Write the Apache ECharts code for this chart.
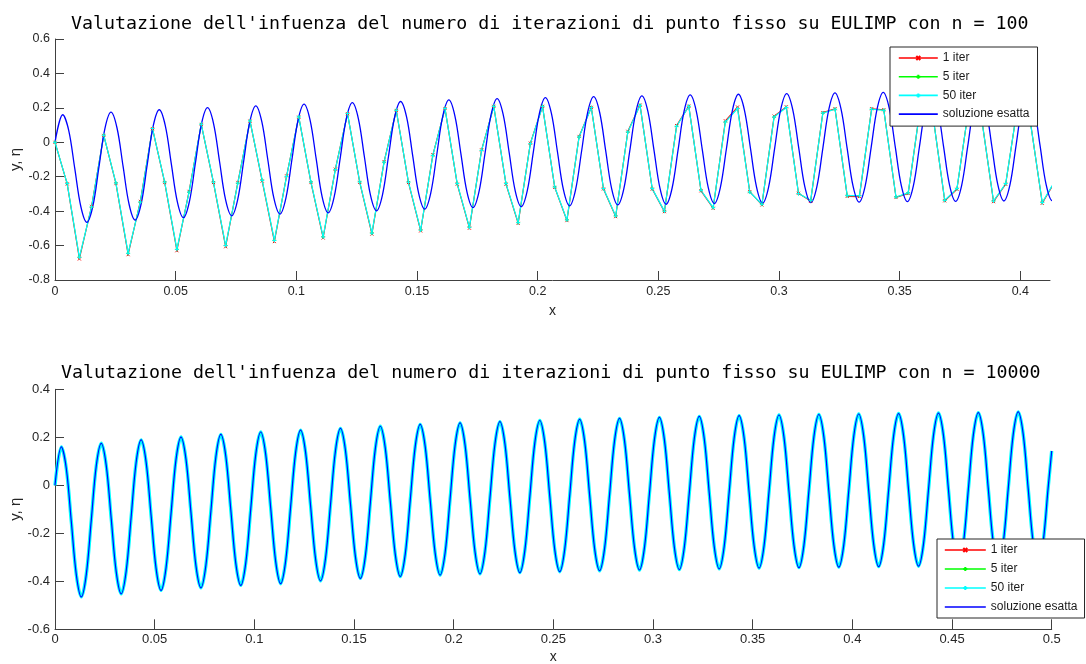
<!DOCTYPE html>
<html>
<head>
<meta charset="utf-8">
<script src="https://cdn.jsdelivr.net/npm/echarts@6/dist/echarts.min.js"></script>
<style>
html,body{margin:0;padding:0;background:#ffffff;}
#chart{width:1086px;height:664px;}
</style>
</head>
<body>
<div id="chart"></div>
<script>
// ---------------- DATA ----------------
const seriesNames = ['1 iter', '5 iter', '50 iter', 'soluzione esatta'];
const titleTop = "Valutazione dell'infuenza del numero di iterazioni di punto fisso su EULIMP con n = 100";
const titleBottom = "Valutazione dell'infuenza del numero di iterazioni di punto fisso su EULIMP con n = 10000";
const xTicksTop = [0, 0.05, 0.1, 0.15, 0.2, 0.25, 0.3, 0.35, 0.4];

// n = 100 grid on [0, 0.5]: step 0.5/99 (only first 83 nodes visible)
const stepTop = 0.5 / 99;

// 1 iter (red), n = 100
const iter1Top = [0, -0.242, -0.678, -0.372, 0.040, -0.240, -0.653, -0.343, 0.079, -0.234, -0.630, -0.285, 0.104,
  -0.234, -0.607, -0.233, 0.123, -0.225, -0.577, -0.195, 0.146, -0.234, -0.556, -0.156, 0.166,
  -0.233, -0.533, -0.112, 0.185, -0.234, -0.515, -0.073, 0.196, -0.243, -0.499, -0.044, 0.209,
  -0.243, -0.471, -0.005, 0.209, -0.262, -0.455, 0.034, 0.203, -0.271, -0.432, 0.064, 0.216,
  -0.272, -0.403, 0.097, 0.210, -0.282, -0.383, 0.125, 0.205, -0.287, -0.364, 0.152, 0.206,
  -0.296, -0.342, 0.173, 0.195, -0.314, -0.316, 0.195, 0.189, -0.321, -0.298, 0.207, 0.172,
  -0.340, -0.273, 0.217, 0.152, -0.345, -0.244, 0.224, 0.132, -0.354, -0.234];

// 50 iter (cyan), n = 100
const iter50Top = [0, -0.240, -0.668, -0.376, 0.041, -0.237, -0.645, -0.347, 0.080, -0.231, -0.622, -0.289, 0.105,
  -0.231, -0.600, -0.237, 0.124, -0.221, -0.570, -0.198, 0.147, -0.231, -0.550, -0.159, 0.167,
  -0.230, -0.528, -0.115, 0.186, -0.231, -0.510, -0.076, 0.196, -0.240, -0.494, -0.047, 0.209,
  -0.240, -0.467, -0.008, 0.209, -0.260, -0.451, 0.031, 0.202, -0.269, -0.428, 0.060, 0.215,
  -0.269, -0.400, 0.093, 0.209, -0.279, -0.380, 0.118, 0.196, -0.289, -0.360, 0.147, 0.202,
  -0.298, -0.337, 0.170, 0.192, -0.310, -0.310, 0.192, 0.186, -0.318, -0.294, 0.205, 0.170,
  -0.337, -0.269, 0.215, 0.150, -0.341, -0.240, 0.222, 0.130, -0.350, -0.230];

// 5 iter (green) is hidden under 50 iter: same values
const iter5Top = iter50Top.slice();

// exact solution, read at x = 0, 0.0032 + 0.0025*j (j = 0..198), 0.5
const exactY = [0,
  0.160, 0.068, -0.153, -0.373, -0.465, -0.371, -0.145, 0.081,
  0.175, 0.083, -0.139, -0.360, -0.452, -0.358, -0.132, 0.095,
  0.189, 0.097, -0.125, -0.346, -0.438, -0.344, -0.119, 0.107,
  0.201, 0.109, -0.113, -0.335, -0.427, -0.333, -0.108, 0.118,
  0.212, 0.120, -0.103, -0.325, -0.417, -0.323, -0.098, 0.128,
  0.222, 0.129, -0.094, -0.317, -0.410, -0.316, -0.090, 0.136,
  0.230, 0.138, -0.084, -0.306, -0.398, -0.305, -0.081, 0.144,
  0.237, 0.146, -0.076, -0.297, -0.388, -0.295, -0.071, 0.153,
  0.246, 0.154, -0.067, -0.288, -0.380, -0.287, -0.063, 0.161,
  0.254, 0.162, -0.060, -0.282, -0.374, -0.281, -0.057, 0.167,
  0.260, 0.168, -0.055, -0.277, -0.369, -0.276, -0.052, 0.172,
  0.265, 0.173, -0.050, -0.272, -0.364, -0.271, -0.047, 0.177,
  0.270, 0.178, -0.045, -0.268, -0.360, -0.267, -0.043, 0.182,
  0.275, 0.183, -0.041, -0.264, -0.356, -0.263, -0.039, 0.186,
  0.279, 0.186, -0.037, -0.260, -0.353, -0.260, -0.035, 0.190,
  0.283, 0.190, -0.034, -0.258, -0.351, -0.258, -0.032, 0.194,
  0.287, 0.194, -0.031, -0.255, -0.348, -0.255, -0.029, 0.197,
  0.290, 0.197, -0.028, -0.252, -0.345, -0.252, -0.026, 0.200,
  0.293, 0.200, -0.025, -0.250, -0.343, -0.250, -0.024, 0.202,
  0.295, 0.202, -0.023, -0.248, -0.341, -0.248, -0.022, 0.204,
  0.297, 0.204, -0.021, -0.246, -0.339, -0.246, -0.020, 0.206,
  0.299, 0.206, -0.019, -0.244, -0.337, -0.244, -0.018, 0.208,
  0.301, 0.208, -0.017, -0.242, -0.335, -0.242, -0.016, 0.210,
  0.303, 0.210, -0.015, -0.240, -0.333, -0.239, -0.014, 0.212,
  0.306, 0.213, -0.013, -0.238, -0.331, -0.237, -0.012,
  0.143];
const exactX = [0].concat(Array.from({length: 199}, (_, j) => +(0.0032 + 0.0025 * j).toFixed(4)), [0.5]);

// n = 10000: all iteration counts coincide with the exact curve at this scale
const iter1Bottom = exactY.slice();
const iter5Bottom = exactY.slice();
const iter50Bottom = exactY.slice();

// ---------------- CHART ----------------
const topPairs = arr => arr.map((y, k) => [+(k * stepTop).toFixed(6), y]);
const exactPairs = arr => arr.map((y, i) => [exactX[i], y]);

const axisColor = '#404040';
const tickFont = {fontFamily: 'Liberation Sans, Arial, sans-serif', color: '#262626'};
const titleFont = {fontFamily: 'DejaVu Sans Mono, monospace', fontSize: 18.3, fontWeight: 'normal', color: '#000', lineHeight: 22};
const red = '#ff0000', green = '#00ff00', cyan = '#00ffff', blue = '#0000ff';
const xMark = 'path://M0 0L4 4M4 0L0 4';
const plusMark = 'path://M2 0L2 4M0 2L4 2';

function xAxisCfg(grid, min, max, extra) {
  return Object.assign({
    gridIndex: grid, type: 'value', min: min, max: max,
    name: 'x', nameLocation: 'middle', nameMoveOverlap: false,
    nameTextStyle: {fontFamily: 'Liberation Sans, Arial, sans-serif', fontSize: 14, color: '#262626'},
    axisLine: {show: true, onZero: false, lineStyle: {color: axisColor, width: 1}},
    splitLine: {show: false}
  }, extra);
}
function yAxisCfg(grid, min, max) {
  return {
    gridIndex: grid, type: 'value', min: min, max: max, interval: 0.2,
    name: 'y, η', nameLocation: 'middle', nameRotate: 90, nameGap: 32, nameMoveOverlap: false,
    nameTextStyle: {fontFamily: 'Liberation Sans, Arial, sans-serif', fontSize: 15, color: '#262626'},
    axisLine: {show: true, onZero: false, lineStyle: {color: axisColor, width: 1}},
    axisTick: {show: true, inside: true, length: 9, lineStyle: {color: axisColor}},
    axisLabel: Object.assign({margin: 5, fontSize: grid === 0 ? 12.5 : 13}, tickFont),
    splitLine: {show: false}
  };
}

function legendCfg(left, top, padding, itemWidth, itemGap) {
  return {
    show: true, orient: 'vertical', left: left, top: top,
    itemWidth: itemWidth, itemHeight: 5, itemGap: itemGap, padding: padding,
    backgroundColor: '#ffffff', borderColor: '#262626', borderWidth: 1, borderRadius: 0,
    lineStyle: {width: 1.6},
    textStyle: {fontFamily: 'Liberation Sans, Arial, sans-serif', fontSize: 12, color: '#1a1a1a'},
    selectedMode: false,
    data: [
      {name: seriesNames[0]}, {name: seriesNames[1]}, {name: seriesNames[2]},
      {name: seriesNames[3], itemStyle: {opacity: 0}}
    ]
  };
}

const option = {
  animation: false,
  backgroundColor: '#ffffff',
  title: [
    {text: titleTop, left: 66, top: 8, padding: 5, textStyle: titleFont},
    {text: titleBottom, left: 56, top: 357, padding: 5, textStyle: titleFont}
  ],
  legend: [
    legendCfg(890, 47, [5, 8, 6, 8], 39, 6.7),
    legendCfg(937, 539, [5, 7, 5, 7], 41, 7)
  ],
  grid: [
    {left: 55, right: 36, top: 39, bottom: 384, outerBoundsMode: 'none', containLabel: false},
    {left: 55, right: 34.3, top: 389.3, bottom: 34.7, outerBoundsMode: 'none', containLabel: false}
  ],
  xAxis: [
    xAxisCfg(0, 0, 0.4123, {
      nameGap: 24,
      axisTick: {show: true, inside: true, length: 9, customValues: xTicksTop, lineStyle: {color: axisColor}},
      axisLabel: Object.assign({margin: 5, fontSize: 12.5, customValues: xTicksTop}, tickFont)
    }),
    xAxisCfg(1, 0, 0.5, {
      interval: 0.05, nameGap: 21,
      axisTick: {show: true, inside: true, length: 10, lineStyle: {color: axisColor}},
      axisLabel: Object.assign({margin: 4, fontSize: 13}, tickFont)
    })
  ],
  yAxis: [yAxisCfg(0, -0.8, 0.6), yAxisCfg(1, -0.6, 0.4)],
  series: [
    // top chart (n = 100)
    {name: seriesNames[0], type: 'line', xAxisIndex: 0, yAxisIndex: 0, data: topPairs(iter1Top),
     symbol: xMark, symbolSize: 3, showSymbol: true,
     lineStyle: {color: red, width: 1.1}, itemStyle: {color: red, borderColor: red, borderWidth: 1}},
    {name: seriesNames[1], type: 'line', xAxisIndex: 0, yAxisIndex: 0, data: topPairs(iter5Top),
     symbol: plusMark, symbolSize: 4, showSymbol: true,
     lineStyle: {color: green, width: 0.5}, itemStyle: {color: green, borderColor: green, borderWidth: 0.5}},
    {name: seriesNames[2], type: 'line', xAxisIndex: 0, yAxisIndex: 0, data: topPairs(iter50Top),
     symbol: plusMark, symbolSize: 4, showSymbol: true,
     lineStyle: {color: cyan, width: 1.2}, itemStyle: {color: cyan, borderColor: cyan, borderWidth: 1}},
    {name: seriesNames[3], type: 'line', xAxisIndex: 0, yAxisIndex: 0, data: exactPairs(exactY),
     symbol: 'none', smooth: 0.35,
     lineStyle: {color: blue, width: 1.3}, itemStyle: {color: blue}},
    // bottom chart (n = 10000)
    {name: seriesNames[0], type: 'line', xAxisIndex: 1, yAxisIndex: 1, data: exactPairs(iter1Bottom),
     symbol: 'none', smooth: 0.35, lineStyle: {color: red, width: 1}, itemStyle: {color: red}},
    {name: seriesNames[1], type: 'line', xAxisIndex: 1, yAxisIndex: 1, data: exactPairs(iter5Bottom),
     symbol: 'none', smooth: 0.35, lineStyle: {color: green, width: 1}, itemStyle: {color: green}},
    {name: seriesNames[2], type: 'line', xAxisIndex: 1, yAxisIndex: 1, data: exactPairs(iter50Bottom),
     symbol: 'none', smooth: 0.35, lineStyle: {color: cyan, width: 3.4}, itemStyle: {color: cyan}},
    {name: seriesNames[3], type: 'line', xAxisIndex: 1, yAxisIndex: 1, data: exactPairs(exactY),
     symbol: 'none', smooth: 0.35, lineStyle: {color: blue, width: 1.2}, itemStyle: {color: blue}}
  ]
};

const chart = echarts.init(document.getElementById('chart'), null, {renderer: 'canvas', devicePixelRatio: 1});
chart.setOption(option);
</script>
</body>
</html>
